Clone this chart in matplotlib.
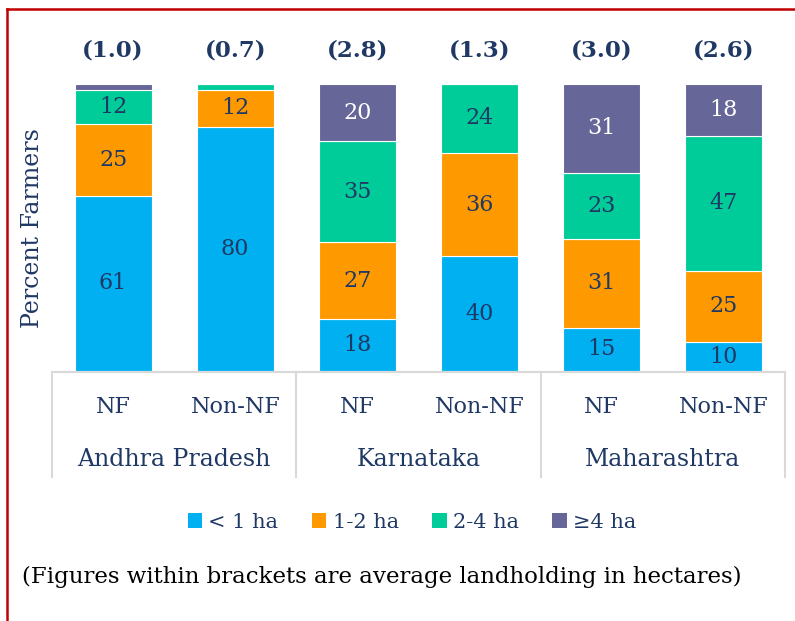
import numpy as np
import matplotlib.pyplot as plt
from matplotlib.transforms import blended_transform_factory
from matplotlib.lines import Line2D
from matplotlib.patches import Patch

states = ["Andhra Pradesh", "Karnataka", "Maharashtra"]
groups = ["NF", "Non-NF", "NF", "Non-NF", "NF", "Non-NF"]
avg_landholding = ["(1.0)", "(0.7)", "(2.8)", "(1.3)", "(3.0)", "(2.6)"]
size_classes = ["< 1 ha", "1-2 ha", "2-4 ha", "≥4 ha"]

below_1ha = [61, 80, 18, 40, 15, 10]
ha_1_2 = [25, 12, 27, 36, 31, 25]
ha_2_4 = [12, 2, 35, 24, 23, 47]
above_4ha = [2, 0, 20, 0, 31, 18]

colors = ["#00B0F0", "#FF9900", "#00CC99", "#666699"]
navy = "#1F3864"
grid_grey = "#D9D9D9"
FONT = ["DejaVu Serif", "Liberation Serif"]

plt.rcParams["font.family"] = FONT

W, H = 795, 621
fig = plt.figure(figsize=(W / 100, H / 100), dpi=100)

# axes placement (pixel based)
left_px, right_px = 52, 785
top_px, bottom_px = 84, 371
ax = fig.add_axes([left_px / W, 1 - bottom_px / H,
                   (right_px - left_px) / W, (bottom_px - top_px) / H])

series = np.array([below_1ha, ha_1_2, ha_2_4, above_4ha], dtype=float)
totals = series.sum(axis=0)
shares = series / totals * 100  # 100% stacked

x = np.arange(len(groups)) + 0.5
bottoms = np.zeros(len(groups))
for k in range(len(size_classes)):
    ax.bar(x, shares[k], 0.63, bottom=bottoms, color=colors[k],
           edgecolor="white", linewidth=0.8, zorder=2)
    for i in range(len(groups)):
        v = series[k, i]
        if v >= 5:
            ax.text(x[i], bottoms[i] + shares[k, i] / 2, f"{int(v)}",
                    ha="center", va="center", fontsize=16,
                    color="white" if k == 3 else navy, zorder=3)
    bottoms += shares[k]

ax.set_xlim(0, 6)
ax.set_ylim(0, 100)
ax.axis("off")

# category axis frame
def fy(py):
    return 1 - py / H

def fx(px):
    return px / W

fig.add_artist(Line2D([fx(left_px), fx(right_px)], [fy(372), fy(372)],
                      color=grid_grey, lw=1.5))
for sx in [52, 296, 541, 785]:
    fig.add_artist(Line2D([fx(sx), fx(sx)], [fy(372), fy(477)],
                          color=grid_grey, lw=1.5))

trans = blended_transform_factory(ax.transData, fig.transFigure)
for i, g in enumerate(groups):
    fig.text(x[i], fy(407), g, transform=trans, ha="center", va="center",
             fontsize=16, color=navy)
    fig.text(x[i], fy(50), avg_landholding[i], transform=trans, ha="center",
             va="center", fontsize=16.5, fontweight="bold", color=navy)
for j, s in enumerate(states):
    fig.text(2 * j + 1, fy(459), s, transform=trans, ha="center", va="center",
             fontsize=17, color=navy)

fig.text(fx(33), fy(228), "Percent Farmers", rotation=90, ha="center",
         va="center", fontsize=17, color=navy)

handles = [Patch(facecolor=c, edgecolor="none") for c in colors]
fig.legend(handles, size_classes, loc="center",
           bbox_to_anchor=(fx(412), fy(522)),
           ncol=4, frameon=False, fontsize=15, handlelength=0.7,
           handleheight=0.7, handletextpad=0.3, columnspacing=1.6,
           labelcolor=navy)

fig.text(fx(22), fy(577),
         "(Figures within brackets are average landholding in hectares)",
         ha="left", va="center", fontsize=16.5, color="black")

# red frame along the top and left edges
fig.add_artist(Line2D([fx(7), 1], [fy(9), fy(9)], color="#C00000", lw=1.8))
fig.add_artist(Line2D([fx(7), fx(7)], [fy(9), 0], color="#C00000", lw=1.8))

fig.savefig("out.png", dpi=100, facecolor="white")
